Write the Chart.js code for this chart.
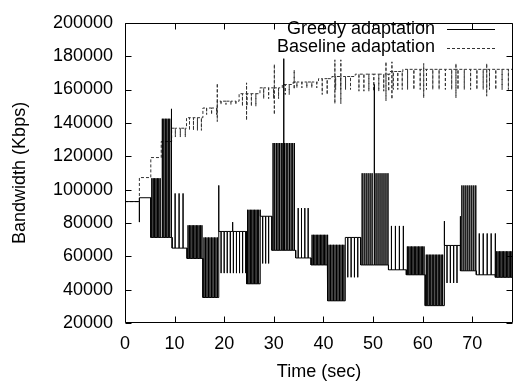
<!DOCTYPE html>
<html>
<head>
<meta charset="utf-8">
<script src="https://cdn.jsdelivr.net/npm/chart.js@4.4.0/dist/chart.umd.min.js"></script>
<style>
  body { margin: 0; background: #fff; }
  #wrap { width: 514px; height: 381px; }
</style>
</head>
<body>
<div id="wrap"><canvas id="bwChart" width="514" height="381"></canvas></div>
<script>
// time axis ends a bit after 78 s
const timeEnd = 78.2;

// greedy adaptation: step segments, each flickering between its level and a peak
const greedyStart = [0, 2.9, 5.2, 7.3, 9.5, 12.5, 15.7, 18.9, 24.5, 27.3, 29.6, 34.4, 37.5, 40.9, 44.4, 47.5, 53.1, 56.7, 60.5, 64.4, 67.6, 70.8, 74.7];
const greedyLevel = [92800, 95100, 71300, 71300, 64900, 58700, 35300, 74900, 43500, 84000, 63600, 59000, 54800, 33300, 71300, 54800, 51900, 48900, 30400, 66500, 51300, 48900, 47400];
const greedyPeak  = [92800, 95100, 106800, 142500, 97700, 78600, 71300, 49900, 87900, 55700, 127900, 88900, 72900, 66900, 47400, 109800, 78200, 65900, 61000, 44000, 102500, 73700, 63000];
const greedyStep  = [0, 0, 0.28, 0.3, 0.8, 0.28, 0.3, 0.62, 0.28, 0.6, 0.33, 0.67, 0.28, 0.3, 0.67, 0.4, 0.8, 0.28, 0.3, 0.67, 0.4, 0.8, 0.28];
// single tall strokes in the greedy trace
const greedyExtraT  = [2.9, 9.4, 18.9, 21.7, 32.0, 50.3, 64.4, 67.6];
const greedyExtraHi = [95100, 148400, 102500, 80500, 178500, 163000, 81100, 84000];
const greedyExtraLo = [80500, 71300, 74900, 74900, 63600, 54800, 66500, 51300];

// baseline adaptation: rising staircase with short dips
const baseStart = [0, 2.9, 5.2, 7.3, 9.4, 12.4, 15.7, 18.6, 23.0, 27.2, 31.7, 33.9, 39.0, 41.7, 46.4, 53.4, 56.0];
const baseLevel = [92800, 107200, 119200, 128800, 136800, 143100, 148900, 153000, 157500, 161000, 163000, 164500, 166500, 167800, 169200, 170800, 172100];
const baseDip   = [92800, 107200, 119200, 128800, 131500, 135500, 145000, 151000, 150000, 154500, 157000, 161000, 157000, 160000, 159000, 160000, 160000];
const baseStep  = [0, 0, 0, 0, 1.0, 0.8, 1.0, 1.0, 0.9, 1.0, 0.8, 1.0, 1.0, 1.0, 1.0, 0.9, 1.27];
const baseExtraT  = [18.6, 24.5, 30.1, 34.1, 42.3, 43.5, 52.6, 53.8, 60.2, 66.7, 72.9, 78.1];
const baseExtraHi = [163700, 164000, 175200, 171700, 177800, 177800, 176600, 176600, 175600, 175600, 175600, 189000];
const baseExtraLo = [140800, 141500, 145000, 160200, 151500, 151500, 153200, 154200, 155000, 155000, 156000, 162000];

function buildTrace(start, level, peak, step, extraT, extraHi, extraLo) {
  const pts = [];
  for (let i = 0; i < start.length; i++) {
    const s = start[i];
    const e = i + 1 < start.length ? start[i + 1] : timeEnd;
    const marks = [];
    if (step[i] > 0) {
      for (let t = s + step[i] * 0.75; t < e - 0.05; t += step[i]) marks.push([t, peak[i], level[i]]);
    }
    extraT.forEach((t, k) => {
      if (t >= s && t < e) marks.push([t, extraHi[k], extraLo[k]]);
    });
    marks.sort((a, b) => a[0] - b[0]);
    pts.push({ x: s, y: level[i] });
    marks.forEach(m => {
      pts.push({ x: m[0], y: level[i] }, { x: m[0], y: m[1] }, { x: m[0], y: m[2] }, { x: m[0], y: level[i] });
    });
    pts.push({ x: e, y: level[i] });
  }
  return pts;
}

const greedyPts = buildTrace(greedyStart, greedyLevel, greedyPeak, greedyStep, greedyExtraT, greedyExtraHi, greedyExtraLo);
const basePts = buildTrace(baseStart, baseLevel, baseDip, baseStep, baseExtraT, baseExtraHi, baseExtraLo);

Chart.defaults.font.family = "'Liberation Sans', Arial, sans-serif";
Chart.defaults.color = '#000';

// gnuplot style box with inward ticks on all sides
const frame = {
  id: 'frame',
  afterDatasetsDraw(chart) {
    const { ctx, chartArea: a, scales: { x, y } } = chart;
    const L = Math.round(a.left) + 0.5, R = Math.round(a.right) - 0.5;
    const T = Math.round(a.top) + 0.5, B = Math.round(a.bottom) - 0.5;
    ctx.save();
    ctx.strokeStyle = '#000';
    ctx.lineWidth = 1;
    ctx.setLineDash([]);
    ctx.beginPath();
    ctx.rect(L, T, R - L, B - T);
    x.ticks.forEach(t => {
      const px = Math.round(x.getPixelForValue(t.value)) + 0.5;
      ctx.moveTo(px, B); ctx.lineTo(px, B - 6);
      ctx.moveTo(px, T); ctx.lineTo(px, T + 6);
    });
    y.ticks.forEach(t => {
      const py = Math.round(y.getPixelForValue(t.value)) + 0.5;
      ctx.moveTo(L, py); ctx.lineTo(L + 6, py);
      ctx.moveTo(R, py); ctx.lineTo(R - 6, py);
    });
    ctx.stroke();
    ctx.restore();
  }
};

// key in the top right corner, text left of the line sample
const keyBox = {
  id: 'keyBox',
  afterDraw(chart) {
    const ctx = chart.ctx;
    ctx.save();
    ctx.font = "18px 'Liberation Sans', Arial, sans-serif";
    ctx.textAlign = 'right';
    ctx.textBaseline = 'middle';
    ctx.fillStyle = '#000';
    chart.data.datasets.forEach((ds, i) => {
      const yy = 29 + i * 18.5;
      ctx.fillText(ds.label, 435, yy);
      ctx.strokeStyle = ds.borderColor;
      ctx.lineWidth = 1;
      ctx.setLineDash(ds.borderDash || []);
      ctx.beginPath();
      ctx.moveTo(447, Math.round(yy) + 0.5);
      ctx.lineTo(495, Math.round(yy) + 0.5);
      ctx.stroke();
    });
    ctx.restore();
  }
};

new Chart(document.getElementById('bwChart'), {
  type: 'line',
  data: {
    datasets: [
      { label: 'Greedy adaptation', data: greedyPts, borderColor: '#000', borderWidth: 1, pointRadius: 0, tension: 0 },
      { label: 'Baseline adaptation', data: basePts, borderColor: '#333', borderWidth: 1, borderDash: [3, 2], pointRadius: 0, tension: 0 }
    ]
  },
  options: {
    responsive: false,
    animation: false,
    events: [],
    layout: { padding: { top: 15, right: 1, left: 0, bottom: 0 } },
    plugins: { legend: { display: false }, tooltip: { enabled: false } },
    scales: {
      x: {
        type: 'linear', min: 0, max: timeEnd,
        grid: { display: false, drawTicks: false },
        border: { display: false },
        ticks: { stepSize: 10, includeBounds: false, font: { size: 18 }, padding: 10, maxRotation: 0 },
        title: { display: true, text: 'Time (sec)', font: { size: 18, lineHeight: 1 }, padding: 0 },
        afterFit: s => { s.height = 58; }
      },
      y: {
        min: 20000, max: 200000,
        grid: { display: false, drawTicks: false },
        border: { display: false },
        ticks: { stepSize: 20000, font: { size: 18 }, padding: 12, callback: v => String(v) },
        title: { display: true, text: 'Bandwidth (Kbps)', font: { size: 18, lineHeight: 1 }, padding: { top: 11, bottom: 0 } },
        afterFit: s => { s.width = 125; }
      }
    }
  },
  plugins: [frame, keyBox]
});
</script>
</body>
</html>
